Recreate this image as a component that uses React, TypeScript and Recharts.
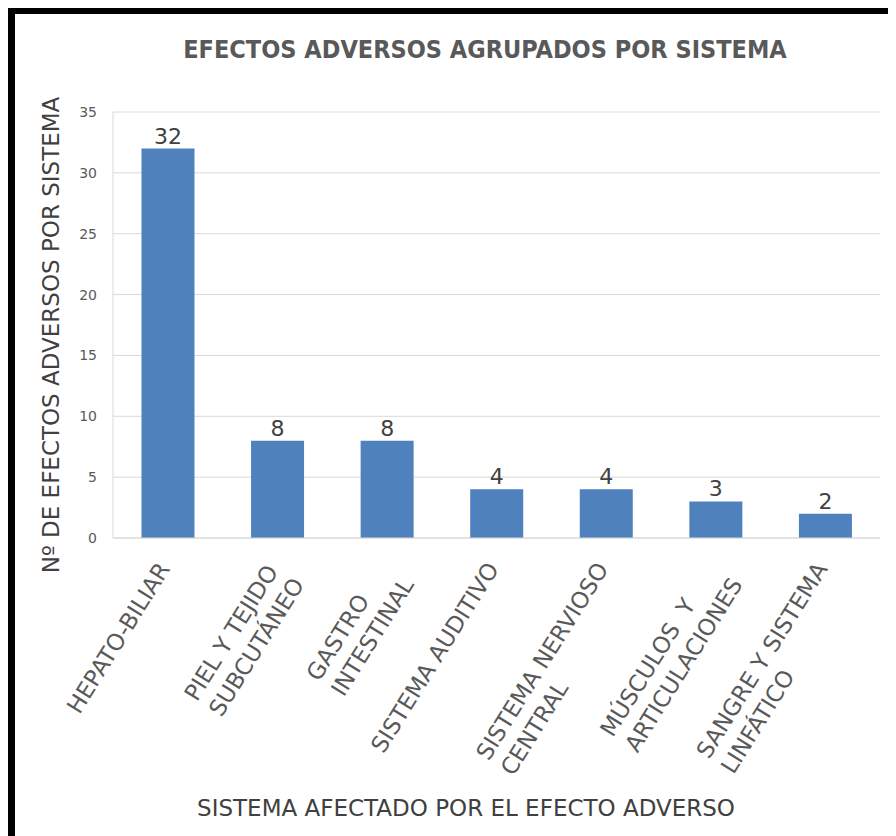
import { Bar, BarChart, CartesianGrid, LabelList, XAxis, YAxis } from 'recharts';

const systems = [
  'HEPATO-BILIAR',
  'PIEL Y TEJIDO SUBCUTÁNEO',
  'GASTRO INTESTINAL',
  'SISTEMA AUDITIVO',
  'SISTEMA NERVIOSO CENTRAL',
  'MÚSCULOS Y ARTICULACIONES',
  'SANGRE Y SISTEMA LINFÁTICO',
];
const tickLines = [
  ['HEPATO-BILIAR'],
  ['PIEL Y TEJIDO', 'SUBCUTÁNEO'],
  ['GASTRO', 'INTESTINAL'],
  ['SISTEMA AUDITIVO'],
  ['SISTEMA NERVIOSO', 'CENTRAL'],
  ['MÚSCULOS  Y', 'ARTICULACIONES'],
  ['SANGRE Y SISTEMA', 'LINFÁTICO'],
];
const counts = [32, 8, 8, 4, 4, 3, 2];
const yTicks = [0, 5, 10, 15, 20, 25, 30, 35];

const data = systems.map((system, i) => ({ system, count: counts[i] }));

const FONT = '"DejaVu Sans", Verdana, sans-serif';
const TICK_FONT_SIZE = 23;
const LINE_HEIGHT = 29;
const GRID = '#d9d9d9';

let ctx: CanvasRenderingContext2D | null = null;
function textWidth(t: string) {
  if (!ctx) ctx = document.createElement('canvas').getContext('2d');
  ctx!.font = `${TICK_FONT_SIZE}px "DejaVu Sans"`;
  return ctx!.measureText(t).width;
}

// rotated, multi-line category label: block right-aligned at the tick, lines left-aligned
function SystemTick({ x, y, payload }: any) {
  const lines = tickLines[systems.indexOf(payload.value)] ?? [payload.value];
  const w = Math.max(...lines.map(textWidth));
  return (
    <g transform={`translate(${x + 3},${y + 31}) rotate(-58)`}>
      <text fill="#595959" fontSize={TICK_FONT_SIZE} fontFamily={FONT} style={{ whiteSpace: 'pre' }}>
        {lines.map((l, i) => (
          <tspan key={i} x={-w} y={i * LINE_HEIGHT}>
            {l}
          </tspan>
        ))}
      </text>
    </g>
  );
}

export default function App() {
  return (
    <div style={{ position: 'relative', width: 888, height: 828, background: '#fff' }}>
      <BarChart
        width={888}
        height={828}
        data={data}
        margin={{ top: 104, right: 16, left: 0, bottom: 0 }}
        barCategoryGap="26%"
      >
        <CartesianGrid vertical={false} stroke={GRID} />
        <XAxis
          dataKey="system"
          interval={0}
          height={298}
          tickLine={false}
          tickSize={0}
          tickMargin={0}
          axisLine={{ stroke: GRID }}
          tick={<SystemTick />}
        />
        <YAxis
          width={105}
          domain={[0, 35]}
          ticks={yTicks}
          interval={0}
          tickLine={false}
          tickSize={0}
          tickMargin={16}
          axisLine={{ stroke: GRID }}
          tick={{ fill: '#595959', fontSize: 14, fontFamily: FONT }}
        />
        <YAxis
          yAxisId="frame"
          orientation="right"
          width={0}
          domain={[0, 35]}
          tick={false}
          tickLine={false}
          axisLine={{ stroke: GRID }}
        />
        <Bar dataKey="count" fill="#4F81BD" isAnimationActive={false}>
          <LabelList dataKey="count" position="top" offset={5} fill="#404040" fontSize={22} fontFamily={FONT} />
        </Bar>
      </BarChart>

      <svg width={888} height={828} style={{ position: 'absolute', left: 0, top: 0, pointerEvents: 'none' }}>
        <text
          x={477}
          y={50}
          textAnchor="middle"
          fill="#595959"
          fontSize={25}
          fontWeight="bold"
          fontFamily={FONT}
          style={{ fontStretch: 'condensed' }}
        >
          EFECTOS ADVERSOS AGRUPADOS POR SISTEMA
        </text>
        <text
          transform="translate(43,327) rotate(-90)"
          textAnchor="middle"
          dominantBaseline="central"
          fill="#404040"
          fontSize={23}
          fontFamily={FONT}
        >
          Nº DE EFECTOS ADVERSOS POR SISTEMA
        </text>
        <text x={458} y={808} textAnchor="middle" fill="#404040" fontSize={23} fontFamily={FONT}>
          SISTEMA AFECTADO POR EL EFECTO ADVERSO
        </text>
      </svg>

      <div style={{ position: 'absolute', left: 0, top: 0, width: 888, height: 6, background: '#000' }} />
      <div style={{ position: 'absolute', left: 0, top: 0, width: 7, height: 828, background: '#000' }} />
    </div>
  );
}
